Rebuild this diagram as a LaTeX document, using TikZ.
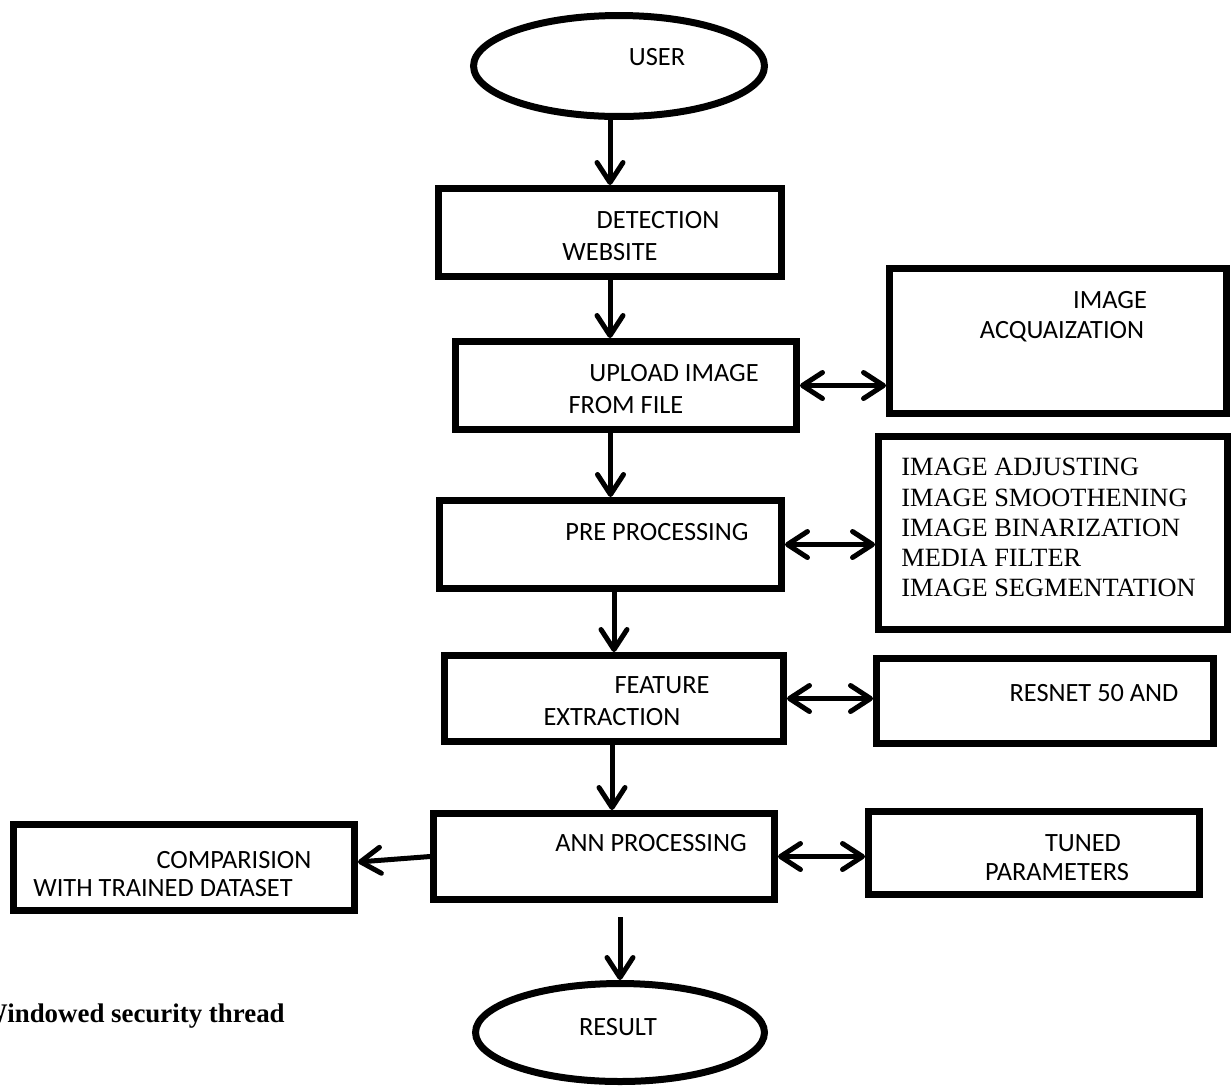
\documentclass[tikz,border=0pt]{standalone}
\usepackage{fontspec}
\setmainfont{Carlito}
\newfontfamily\listfont{Liberation Serif}
\usepackage{tikz}
\usetikzlibrary{positioning,arrows.meta,shapes.geometric}

\begin{document}
\begin{tikzpicture}[
  x=0.02cm, y=-0.02cm,
  font=\fontsize{15}{18}\selectfont,
  barb/.tip={Straight Barb[length=0.4cm, width=0.52cm, round]},
  stagebox/.style={rectangle, draw=black, line width=0.14cm, inner sep=0pt},
  endnode/.style={ellipse, draw=black, line width=0.14cm, inner sep=0pt},
  lbl/.style={inner sep=0pt},
  flow/.style={-barb, draw=black, line width=0.1cm},
  twoway/.style={barb-barb, draw=black, line width=0.1cm}
]
  \useasboundingbox (0,0) rectangle (1231,1090);

  % main column
  \node[endnode, minimum width=5.82cm, minimum height=2.02cm] (user) at (619,66) {};
  \node[stagebox, minimum width=6.86cm, minimum height=1.76cm] (det) at (610,232.5) {};
  \node[stagebox, minimum width=6.82cm, minimum height=1.76cm] (upl) at (626,385.5) {};
  \node[stagebox, minimum width=6.84cm, minimum height=1.76cm] (pre) at (610.5,544.5) {};
  \node[stagebox, minimum width=6.78cm, minimum height=1.72cm] (fea) at (614,698.5) {};
  \node[stagebox, minimum width=6.82cm, minimum height=1.72cm] (ann) at (604,856.5) {};
  \node[endnode, minimum width=5.78cm, minimum height=1.96cm] (result) at (620,1032.5) {};

  % side boxes
  \node[stagebox, minimum width=6.74cm, minimum height=2.90cm] (acq) at (1058,341) {};
  \node[stagebox, minimum width=6.98cm, minimum height=3.86cm] (steps) at (1053,533) {};
  \node[stagebox, minimum width=6.74cm, minimum height=1.70cm] (resnet) at (1045,701) {};
  \node[stagebox, minimum width=6.62cm, minimum height=1.66cm] (tuned) at (1034,853) {};
  \node[stagebox, minimum width=6.82cm, minimum height=1.72cm] (cmp) at (184,867) {};

  % texts
  \node[lbl] (userT) at (657,57) {USER};
  \node[lbl] (detA) at (658,220) {DETECTION};
  \node[lbl] (detB) at (610,252) {WEBSITE};
  \node[lbl] (uplA) at (674,373) {UPLOAD IMAGE};
  \node[lbl] (uplB) at (626,405) {FROM FILE};
  \node[lbl] (acqA) at (1110,300) {IMAGE};
  \node[lbl] (acqB) at (1062,332) {ACQUAIZATION};
  \node[lbl] (preT) at (657,532) {PRE PROCESSING};
  \node[lbl, anchor=north west, align=left,
        font=\listfont\fontsize{15}{17.2}\selectfont] (stepsT) at (901,458)
    {IMAGE ADJUSTING\\IMAGE SMOOTHENING\\IMAGE BINARIZATION\\MEDIA FILTER\\IMAGE SEGMENTATION};
  \node[lbl] (feaA) at (662,685) {FEATURE};
  \node[lbl] (feaB) at (612,717) {EXTRACTION};
  \node[lbl] (resnetT) at (1094,693) {RESNET 50 AND};
  \node[lbl] (annT) at (651,843) {ANN PROCESSING};
  \node[lbl] (tunA) at (1083,843) {TUNED};
  \node[lbl] (tunB) at (1057,872) {PARAMETERS};
  \node[lbl] (cmpA) at (234,860) {COMPARISION};
  \node[lbl] (cmpB) at (163,888) {WITH TRAINED DATASET};
  \node[lbl] (resultT) at (618,1027) {RESULT};
  \node[lbl, anchor=base east, font=\listfont\bfseries\fontsize{15.3}{17}\selectfont]
    (caption) at (285,1022) {Windowed security thread};

  % arrows
  \draw[flow] (user.south -| det.north) -- (det.north);
  \draw[flow] (det.south) -- (det.south |- upl.north);
  \draw[flow] (upl.south -| pre.north) -- (pre.north);
  \draw[flow] (pre.south -| fea.north) -- (fea.north);
  \draw[flow] (fea.south -| 612,0) -- (ann.north -| 612,0);
  \draw[flow, shorten <=0.28cm] (ann.south -| result.north) -- (result.north);
  \draw[twoway] (upl.east) -- (upl.east -| acq.west);
  \draw[twoway] (pre.east) -- (pre.east -| steps.west);
  \draw[twoway] (fea.east) -- (fea.east -| resnet.west);
  \draw[twoway] (ann.east) -- (ann.east -| tuned.west);
  \draw[flow] (ann.west) -- ([yshift=0.1cm]cmp.east);
\end{tikzpicture}
\end{document}
